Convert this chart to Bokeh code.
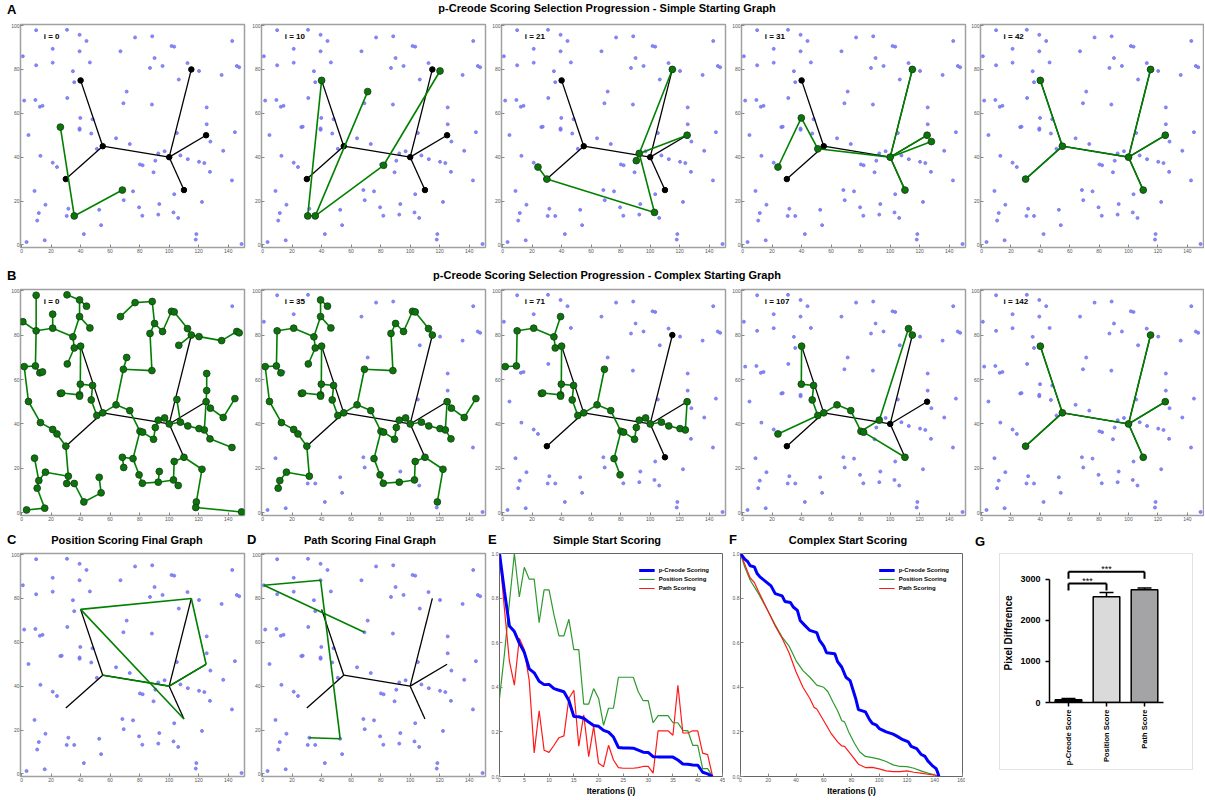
import math
from bokeh.plotting import figure
from bokeh.models import (Div, Label, Range1d, FactorRange, ColumnDataSource, Spacer,
                          Whisker, Legend, FixedTicker, PrintfTickFormatter)
from bokeh.layouts import row, column
from bokeh.embed import file_html
from bokeh.resources import INLINE
from bokeh.core.properties import value

FONT = "Liberation Sans"

# ---------------- data: background points (p1..p91, pA, pB) ----------------
bg_x = [9.9, 30.8, 39.3, 44.0, 0.9, 21.1, 39.3, 21.1, 9.9, 46.3,
        34.8, 35.7, 31.0, 1.8, 9.4, 12.4, 14.2, 4.7, 39.8, 48.1,
        39.3, 39.3, 47.2, 12.8, 21.1, 24.0, 51.0, 67.0, 76.9, 88.5,
        90.1, 95.5, 87.0, 101.6, 103.4, 112.4, 120.2, 106.5, 71.2, 69.0,
        88.3, 64.0, 73.3, 92.6, 96.9, 90.6, 80.2, 82.0, 89.4, 105.2,
        107.6, 112.6, 125.4, 125.4, 127.9, 120.2, 123.8, 127.6, 136.6, 135.5,
        142.7, 145.8, 147.4, 144.5, 142.5, 8.8, 16.2, 11.7, 10.6, 31.7,
        30.6, 35.7, 52.6, 53.9, 42.2, 15.7, 3.4, 68.3, 69.2, 75.5,
        79.6, 81.8, 92.6, 93.3, 103.4, 102.9, 106.1, 122.2, 118.4, 118.0,
        149.0, 26.3, 27.2]
bg_y = [97.9, 98.1, 95.8, 93.0, 86.0, 89.4, 88.3, 83.1, 81.9, 83.2,
        79.2, 74.2, 67.0, 65.8, 66.1, 63.0, 63.4, 50.1, 57.9, 57.3,
        53.1, 52.5, 50.8, 40.6, 37.5, 35.5, 43.8, 88.3, 94.6, 95.1,
        85.2, 81.6, 80.7, 90.7, 90.4, 82.9, 79.3, 75.4, 69.9, 64.6,
        64.0, 48.6, 46.0, 41.7, 42.7, 38.4, 36.7, 36.3, 33.1, 51.0,
        40.8, 39.1, 62.7, 55.0, 47.1, 37.9, 37.3, 33.3, 42.9, 77.5,
        93.0, 81.6, 81.0, 51.4, 29.4, 24.6, 18.3, 14.5, 11.1, 16.5,
        13.2, 13.2, 16.0, 9.0, 4.9, 2.1, 1.3, 25.0, 20.4, 24.4,
        17.1, 13.3, 13.8, 18.6, 23.1, 14.8, 12.3, 19.6, 4.9, 2.4,
        0.4, 53.7, 53.9]
bg_names = ["p%d" % (i + 1) for i in range(91)] + ["pA", "pB"]

# true p-Creode graph (T0..T6)
true_x = [40, 55, 30, 100, 115, 125, 110]
true_y = [75, 45, 30, 40, 80, 50, 25]
true_edges = ["T0-T1", "T2-T1", "T1-T3", "T3-T4", "T3-T5", "T3-T6"]

# simple start progression (green graphs)
simple_labels = ["i = 0", "i = 10", "i = 21", "i = 31", "i = 42"]
simple_edges = [
    ["pA-p72", "p72-p78"],
    ["T0-p71", "p71-p72", "p72-p39", "p72-p48", "p48-p37"],
    ["p26-T2", "T2-p86", "p86-p44", "p44-T4", "p44-T5", "p44-p46"],
    ["p26-p19", "p19-p27", "p27-T3", "T3-T4", "T3-T5", "T3-p55", "T3-T6"],
    true_edges,
]

# complex starting graph (i = 0)
complex_edges = [
    "p1-p9", "p5-p9", "p9-p8", "p6-p8", "p8-p11", "p11-p7", "p7-p3", "p2-p3", "p3-p4",
    "p7-p10", "p11-p12", "p12-p13", "p12-T0", "T0-p19", "p19-p21", "p21-p22", "p19-p20",
    "p20-p23", "p23-p27", "p27-T1", "pA-pB", "pB-p21", "p15-p14", "p15-p16", "p16-p17",
    "p9-p15", "p14-p18", "p18-p24", "p24-p25", "p25-p26", "p26-T2", "T2-p70", "p70-p67",
    "p67-p68", "p68-p69", "p66-p68", "p69-p76", "p76-p77", "p70-p71", "p71-p72",
    "p72-p75", "p75-p74", "p74-p73", "T1-p42", "p42-p40", "p40-p39", "p40-p41",
    "p41-p33", "p33-p31", "p31-p32", "p32-p34", "p34-p35", "p35-p36", "p36-T4",
    "T4-p38", "T4-p37", "p37-p60", "p60-p62", "p62-p63", "p28-p29", "p29-p30",
    "p30-p31", "p42-p43", "p43-p47", "p47-p48", "p47-p80", "p80-p78", "p78-p79",
    "p80-p81", "p81-p82", "p82-p83", "p83-p84", "p83-p86", "p86-p85", "p85-T6",
    "T6-p88", "p86-p87", "p88-p89", "p89-p90", "p90-p91", "p48-p49", "p49-p46",
    "p46-p44", "p44-p45", "p45-T3", "T3-p51", "p51-p52", "p52-p56", "p56-p57",
    "p57-T5", "T5-p54", "p54-p53", "T5-p55", "p55-p59", "p59-p64", "p57-p58",
    "p58-p65", "p50-p51",
]
complex_removed_35 = ["p1", "p2", "p5", "p6", "p17", "p28", "p29", "p30", "p37", "p38",
                      "p39", "p50", "p53", "p54", "p60", "p62", "p63", "p65", "p66",
                      "p71", "p72", "p73", "p74", "p75", "p76", "p77", "p78", "p79",
                      "p84", "p87", "p90", "p91"]
complex_kept_71 = ["p14", "p15", "p9", "p8", "p11", "p7", "p12", "T0", "p19", "p20",
                   "p21", "p22", "pA", "pB", "p23", "p27", "T1", "p42", "p40", "p43",
                   "p47", "p48", "p80", "p81", "p49", "p46", "p44", "p45", "T3", "p51",
                   "p52", "p56", "p57", "T5"]
complex_edges_107 = ["p26-p27", "T0-p19", "p19-p20", "p20-p23", "p23-p27", "p27-T1",
                     "T1-p42", "p42-p43", "p43-p47", "p47-p48", "p48-T6", "p47-p44",
                     "p44-p36", "p36-T4"]
complex_labels = ["i = 0", "i = 35", "i = 71", "i = 107", "i = 142"]

# final graphs of the other scorings
position_final_edges = ["T0-T4", "T4-T5", "T5-T3", "T3-T1", "T0-T6"]
path_final_edges = ["p5-p7", "p5-p40", "p7-p73", "p73-p70"]

# scoring curves
simple_iter = list(range(44))
simple_pcreode = [1.0, 0.83, 0.675, 0.65, 0.598, 0.557, 0.483, 0.465, 0.427, 0.412, 0.413,
                  0.394, 0.387, 0.38, 0.341, 0.269, 0.268, 0.261, 0.244, 0.229, 0.225,
                  0.207, 0.199, 0.177, 0.13, 0.128, 0.128, 0.127, 0.118, 0.109, 0.108,
                  0.089, 0.088, 0.088, 0.088, 0.087, 0.074, 0.056, 0.055, 0.052, 0.051,
                  0.019, 0.012, 0.0]
simple_position = [0.35, 0.55, 0.78, 1.0, 0.805, 0.938, 0.885, 0.885, 0.69, 0.837, 0.837,
                   0.724, 0.631, 0.631, 0.705, 0.569, 0.569, 0.325, 0.325, 0.394, 0.35,
                   0.229, 0.306, 0.306, 0.445, 0.445, 0.445, 0.445, 0.38, 0.34, 0.34,
                   0.241, 0.273, 0.273, 0.273, 0.241, 0.241, 0.207, 0.205, 0.14, 0.14,
                   0.035, 0.035, 0.0]
simple_path = [1.0, 0.75, 0.517, 0.41, 0.62, 0.569, 0.43, 0.106, 0.295, 0.118, 0.108,
               0.14, 0.174, 0.182, 0.35, 0.387, 0.136, 0.276, 0.089, 0.225, 0.059,
               0.044, 0.14, 0.074, 0.04, 0.037, 0.037, 0.037, 0.04, 0.045, 0.045,
               0.015, 0.205, 0.205, 0.205, 0.185, 0.409, 0.195, 0.195, 0.205, 0.205,
               0.105, 0.098, 0.0]

complex_pc_i = [0, 3, 5, 7, 10, 12, 14, 18, 22, 25, 30, 32, 36, 38, 41, 43, 46, 50, 55, 57,
                60, 62, 68, 70, 73, 76, 79, 81, 83, 85, 90, 93, 95, 98, 100, 105, 110, 113,
                117, 121, 123, 127, 130, 133, 135, 138, 141, 142, 143]
complex_pc = [1.0, 0.975, 0.965, 0.945, 0.94, 0.91, 0.895, 0.875, 0.855, 0.82, 0.81, 0.785,
              0.78, 0.76, 0.745, 0.70, 0.68, 0.655, 0.645, 0.61, 0.585, 0.555, 0.55, 0.515,
              0.49, 0.445, 0.43, 0.39, 0.35, 0.30, 0.29, 0.255, 0.238, 0.23, 0.215, 0.20,
              0.19, 0.18, 0.165, 0.155, 0.135, 0.125, 0.10, 0.09, 0.07, 0.05, 0.035, 0.02, 0.0]
complex_pos_i = [0, 3, 7, 13, 20, 25, 30, 35, 40, 45, 50, 55, 60, 63, 67, 70, 73, 75, 78, 82,
                 86, 90, 95, 100, 105, 110, 115, 120, 125, 130, 135, 140, 143]
complex_pos = [1.0, 0.94, 0.88, 0.82, 0.74, 0.68, 0.625, 0.585, 0.52, 0.475, 0.445, 0.41,
               0.40, 0.38, 0.33, 0.295, 0.25, 0.245, 0.20, 0.15, 0.11, 0.09, 0.085, 0.078,
               0.067, 0.052, 0.045, 0.044, 0.037, 0.025, 0.015, 0.007, 0.0]
complex_path_i = [0, 5, 7, 10, 13, 20, 25, 30, 35, 40, 45, 50, 53, 55, 60, 65, 70, 73, 75, 80,
                  85, 90, 95, 100, 105, 110, 115, 120, 125, 130, 135, 140, 143]
complex_path = [1.0, 0.92, 0.89, 0.87, 0.83, 0.74, 0.675, 0.62, 0.555, 0.47, 0.40, 0.35,
                0.31, 0.303, 0.25, 0.196, 0.155, 0.137, 0.135, 0.096, 0.055, 0.04, 0.041,
                0.034, 0.025, 0.022, 0.022, 0.025, 0.019, 0.015, 0.01, 0.006, 0.0]
score_names = ["p-Creode Scoring", "Position Scoring", "Path Scoring"]

# bar chart
g_cats = ["p-Creode Score", "Position Score", "Path Score"]
g_means = [65, 2580, 2750]
g_err = [30, 100, 40]
g_colors = ["#000000", "#dadada", "#a4a4a7"]
sig_pairs = [(0, 1), (0, 2)]
sig_y = [2900, 3190]
sig_text = ["***", "***"]

graph_xticks = [0, 20, 40, 60, 80, 100, 120, 140]
graph_yticks = [0, 20, 40, 60, 80, 100]

# ---------------- helpers ----------------
node_xy = {n: (x, y) for n, x, y in zip(bg_names, bg_x, bg_y)}
for i, (x, y) in enumerate(zip(true_x, true_y)):
    node_xy["T%d" % i] = (x, y)


def seg_xy(edges):
    xs, ys = [], []
    for e in edges:
        a, b = e.split("-")
        xs.append([node_xy[a][0], node_xy[b][0]])
        ys.append([node_xy[a][1], node_xy[b][1]])
    return xs, ys


def edge_nodes(edges):
    out = []
    for e in edges:
        for n in e.split("-"):
            if n not in out:
                out.append(n)
    return out


def induced(edges, keep):
    return [e for e in edges if all(n in keep for n in e.split("-"))]


GREEN = "#008000"
BLUE_PT = "#7474f2"


def base_fig(w, h, xr, yr, left, right, top, bottom, outline="#a0a0a0", ow=1.5):
    p = figure(width=w, height=h, x_range=xr, y_range=yr, output_backend="svg",
               toolbar_location=None, min_border_left=left, min_border_right=right,
               min_border_top=top, min_border_bottom=bottom)
    p.xgrid.visible = False
    p.ygrid.visible = False
    p.outline_line_color = outline
    p.outline_line_width = ow
    p.background_fill_color = "white"
    p.border_fill_color = "white"
    for ax in (p.xaxis[0], p.yaxis[0]):
        ax.axis_line_color = None
        ax.major_tick_in = 3
        ax.major_tick_out = 0
        ax.major_tick_line_color = "#888888"
        ax.minor_tick_line_color = None
        ax.major_label_text_font_size = "5px"
        ax.major_label_text_font = FONT
        ax.major_label_text_color = "#555555"
        ax.major_label_standoff = 1
    return p


def graph_fig(w, left, right, h, top, bottom, green_edges, label, show_nodes=True):
    p = base_fig(w, h, Range1d(-0.7, 151), Range1d(-1.2, 100.5), left, right, top, bottom)
    p.xaxis.ticker = FixedTicker(ticks=graph_xticks)
    p.yaxis.ticker = FixedTicker(ticks=graph_yticks)
    p.scatter(bg_x, bg_y, size=3, fill_color=BLUE_PT, line_color=BLUE_PT, alpha=0.85)
    bx, by = seg_xy(true_edges)
    p.multi_line(bx, by, line_color="black", line_width=1.3)
    if show_nodes:
        p.scatter(true_x, true_y, size=5.5, fill_color="black", line_color="black")
    gx, gy = seg_xy(green_edges)
    if gx:
        p.multi_line(gx, gy, line_color=GREEN, line_width=1.6)
    if show_nodes:
        nodes = edge_nodes(green_edges)
        if nodes:
            p.scatter([node_xy[n][0] for n in nodes], [node_xy[n][1] for n in nodes],
                      size=6.8, fill_color="#0a760a", line_color="#1c3a1c", line_width=0.8)
    if label:
        p.add_layout(Label(x=15, y=95, text=label, text_font=FONT, text_font_size="8px",
                           text_font_style="bold", text_baseline="middle",
                           text_color="black"))
    return p


def score_fig(w, left, xs, ys, xmax, xticks):
    p = base_fig(w, 247, Range1d(0, xmax), Range1d(0, 1), left, 3, 2, 20,
                 outline="#666666", ow=1)
    p.xaxis.ticker = FixedTicker(ticks=xticks)
    p.yaxis.ticker = FixedTicker(ticks=[0, 0.2, 0.4, 0.6, 0.8, 1.0])
    p.yaxis.formatter = PrintfTickFormatter(format="%.1f")
    p.xaxis.axis_label = "Iterations (i)"
    p.xaxis.axis_label_text_font = FONT
    p.xaxis.axis_label_text_font_size = "8.5px"
    p.xaxis.axis_label_text_font_style = "bold"
    p.xaxis.axis_label_text_color = "black"
    p.xaxis.axis_label_standoff = 1
    colors = ["#0000ff", "#2e9a2e", "#ff1a1a"]
    widths = [3, 1.2, 1.2]
    rs = []
    for x, y, c, lw in zip(xs, ys, colors, widths):
        rs.append(p.line(x, y, line_color=c, line_width=lw))
    p.renderers = [rs[1], rs[2], rs[0]]
    leg = Legend(items=[(n, [r]) for n, r in zip(score_names, rs)], location="top_right",
                 border_line_color=None, background_fill_alpha=0,
                 label_text_font=FONT, label_text_font_size="6px",
                 label_text_font_style="bold", label_text_color="black",
                 glyph_width=16, glyph_height=8,
                 label_height=8, spacing=1, padding=2, margin=13, label_standoff=4)
    p.add_layout(leg)
    return p


def header(h, items):
    spans = ""
    for txt, x, top, fs, center in items:
        tf = "transform:translateX(-50%);" if center else ""
        spans += ('<span style="position:absolute;left:%spx;top:%spx;%sfont-size:%spx;'
                  'line-height:1.15;font-weight:bold;white-space:nowrap;">%s</span>'
                  % (x, top, tf, fs, txt))
    html = ('<div style="position:relative;width:1204px;height:%dpx;'
            'font-family:\'Liberation Sans\',Arial,sans-serif;color:#000;">%s</div>' % (h, spans))
    return Div(text=html, width=1204, height=h, margin=0, styles={"overflow": "visible"})


# column geometry: (fig width, left border, right border)
cols_ab = [(248, 20, 4), (240, 13, 3), (240, 13, 3), (240, 13, 3), (236, 12, 1)]

# ---------------- row A ----------------
rowA = []
for (w, l, r), edges, lab in zip(cols_ab, simple_edges, simple_labels):
    rowA.append(graph_fig(w, l, r, 236, 2, 11, edges, lab))

# ---------------- row B ----------------
b_edges = [
    complex_edges,
    [e for e in complex_edges if not any(n in complex_removed_35 for n in e.split("-"))],
    induced(complex_edges, complex_kept_71),
    complex_edges_107,
    true_edges,
]
rowB = []
for (w, l, r), edges, lab in zip(cols_ab, b_edges, complex_labels):
    rowB.append(graph_fig(w, l, r, 239, 2, 11, edges, lab))

# ---------------- row C ----------------
pc = graph_fig(248, 20, 4, 247, 2, 20, position_final_edges, None, show_nodes=False)
pd = graph_fig(240, 13, 3, 247, 2, 20, path_final_edges, None, show_nodes=False)
pe = score_fig(237, 10, [simple_iter, simple_iter, simple_iter],
               [simple_pcreode, simple_position, simple_path], 45, list(range(0, 46, 5)))
pf = score_fig(240, 15, [complex_pc_i, complex_pos_i, complex_path_i],
               [complex_pc, complex_pos, complex_path], 160, list(range(0, 161, 20)))

g = figure(width=194, height=217, x_range=FactorRange(*g_cats, range_padding=0),
           y_range=Range1d(0, 3390), output_backend="svg", toolbar_location=None,
           min_border_left=42, min_border_right=31, min_border_top=9, min_border_bottom=69)
g.xgrid.visible = False
g.ygrid.visible = False
g.outline_line_color = None
src = ColumnDataSource(dict(cat=g_cats, top=g_means, color=g_colors,
                            upper=[m + e for m, e in zip(g_means, g_err)],
                            lower=[m - e for m, e in zip(g_means, g_err)]))
g.vbar(x="cat", top="top", width=0.7, fill_color="color", line_color="black",
       line_width=1.5, source=src)
wh = Whisker(source=src, base="cat", upper="upper", lower="lower",
             line_color="black", line_width=1.5)
wh.upper_head.size = 14
wh.lower_head.size = 14
wh.upper_head.line_width = 1.5
wh.lower_head.line_width = 1.5
g.add_layout(wh)
bx0 = [a + 0.5 for a, b in sig_pairs]
bx1 = [b + 0.5 for a, b in sig_pairs]
tick_bot = [y - 170 for y in sig_y]
g.segment(x0=bx0, y0=sig_y, x1=bx1, y1=sig_y, line_color="black", line_width=2)
g.segment(x0=bx0, y0=sig_y, x1=bx0, y1=tick_bot, line_color="black", line_width=2)
g.segment(x0=bx1, y0=sig_y, x1=bx1, y1=tick_bot, line_color="black", line_width=2)
g.text(x=[(a + b) / 2 for a, b in zip(bx0, bx1)], y=[y + 55 for y in sig_y], text=sig_text,
       text_font=value(FONT), text_font_size="9px", text_align="center",
       text_baseline="middle", text_color="black")
g.yaxis.bounds = (0, 3000)
g.yaxis.ticker = FixedTicker(ticks=[0, 1000, 2000, 3000])
g.yaxis.minor_tick_line_color = None
g.yaxis.axis_label = "Pixel Difference"
g.yaxis.axis_label_text_font = FONT
g.yaxis.axis_label_text_font_size = "10px"
g.yaxis.axis_label_text_font_style = "bold"
g.yaxis.axis_label_text_color = "black"
g.yaxis.axis_label_standoff = 3
for ax in (g.xaxis[0], g.yaxis[0]):
    ax.axis_line_width = 1.5
    ax.axis_line_color = "black"
    ax.major_tick_line_width = 1.5
    ax.major_tick_in = 0
    ax.major_tick_out = 4
    ax.major_label_text_font = FONT
    ax.major_label_text_font_style = "bold"
    ax.major_label_text_color = "black"
g.yaxis.major_label_text_font_size = "9px"
g.xaxis.major_label_text_font_size = "7.5px"
g.xaxis.major_label_orientation = math.pi / 2
g.xaxis.major_label_standoff = 3
g.styles = {"border": "1px solid #e2e2e2"}

g_box = column(Spacer(width=230, height=2), row(Spacer(width=34, height=219), g))

# ---------------- headers ----------------
divA = header(22, [("A", 7, 3, 13, False),
                   ("p-Creode Scoring Selection Progression - Simple Starting Graph", 607, 2, 11, True)])
divB = header(29, [("B", 7, 11, 13, False),
                   ("p-Creode Scoring Selection Progression - Complex Starting Graph", 607, 11, 11, True)])
divC = header(25, [("C", 7, 7, 13, False), ("Position Scoring Final Graph", 127, 8, 11, True),
                   ("D", 247, 7, 13, False), ("Path Scoring Final Graph", 370, 8, 11, True),
                   ("E", 488, 7, 13, False), ("Simple Start Scoring", 607, 8, 11, True),
                   ("F", 729, 7, 13, False), ("Complex Start Scoring", 848, 8, 11, True),
                   ("G", 975, 9, 13, False)])

layout = column(divA, row(*rowA), divB, row(*rowB), divC, row(pc, pd, pe, pf, g_box))

open("out.html", "w").write(file_html(layout, INLINE))
